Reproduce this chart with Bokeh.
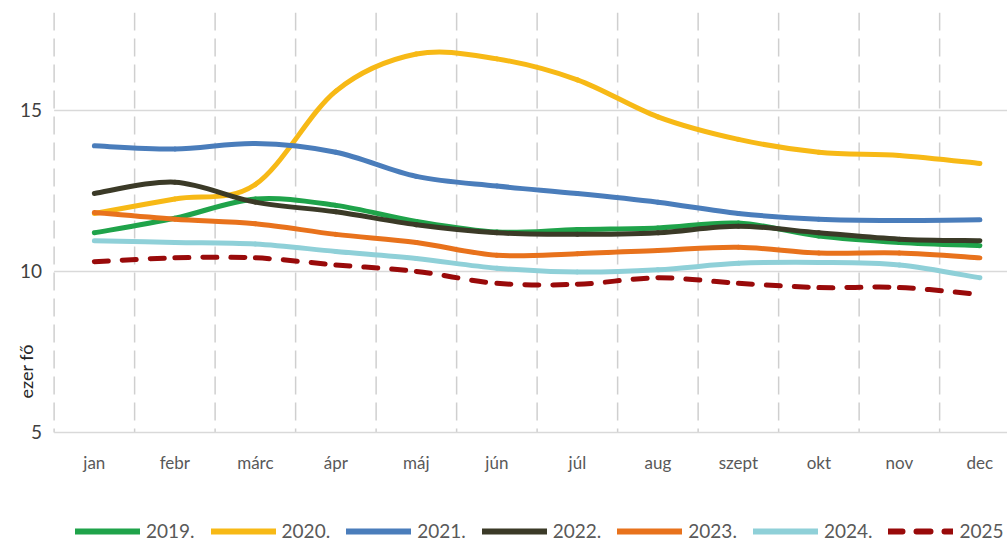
from math import pi
from bokeh.plotting import figure
from bokeh.layouts import column
from bokeh.models import ColumnDataSource, FixedTicker, Legend, LegendItem
from bokeh.core.properties import value
from bokeh.embed import file_html
from bokeh.resources import INLINE

months = ["jan", "febr", "márc", "ápr", "máj", "jún", "júl", "aug", "szept", "okt", "nov", "dec"]
y_ticks = [5, 10, 15]
y_title = "ezer fő"

y2019 = [11.2, 11.65, 12.25, 12.05, 11.55, 11.22, 11.3, 11.35, 11.5, 11.1, 10.9, 10.8]
y2020 = [11.8, 12.25, 12.7, 15.6, 16.75, 16.6, 15.95, 14.8, 14.1, 13.7, 13.6, 13.35]
y2021 = [13.9, 13.8, 13.97, 13.7, 12.95, 12.65, 12.42, 12.15, 11.8, 11.62, 11.58, 11.6]
y2022 = [12.42, 12.77, 12.15, 11.85, 11.45, 11.2, 11.15, 11.2, 11.4, 11.2, 11.0, 10.95]
y2023 = [11.83, 11.62, 11.48, 11.15, 10.9, 10.5, 10.55, 10.65, 10.75, 10.57, 10.57, 10.42]
y2024 = [10.95, 10.9, 10.85, 10.62, 10.4, 10.1, 9.98, 10.05, 10.25, 10.28, 10.2, 9.8]
y2025 = [10.3, 10.42, 10.42, 10.2, 10.0, 9.63, 9.6, 9.8, 9.63, 9.5, 9.5, 9.28]

labels = ["2019.", "2020.", "2021.", "2022.", "2023.", "2024.", "2025"]
values = [y2019, y2020, y2021, y2022, y2023, y2024, y2025]
colors = ["#1fa34a", "#f7b916", "#4a7dbb", "#3b3a27", "#e8721c", "#8fd0d8", "#990a0a"]
dashes = ["solid", "solid", "solid", "solid", "solid", "solid", "14 14"]

FONT = "Lato"


def smooth_source(ys):
    """Excel-like smoothing: cubic Bezier per segment, control points from neighbours."""
    n = len(ys)
    xs = list(range(n))
    d = dict(x0=[], y0=[], x1=[], y1=[], cx0=[], cy0=[], cx1=[], cy1=[])
    for i in range(n - 1):
        a = max(i - 1, 0)
        b = min(i + 2, n - 1)
        d["x0"].append(xs[i]); d["y0"].append(ys[i])
        d["x1"].append(xs[i + 1]); d["y1"].append(ys[i + 1])
        d["cx0"].append(xs[i] + (xs[i + 1] - xs[a]) / 6)
        d["cy0"].append(ys[i] + (ys[i + 1] - ys[a]) / 6)
        d["cx1"].append(xs[i + 1] - (xs[b] - xs[i]) / 6)
        d["cy1"].append(ys[i + 1] - (ys[b] - ys[i]) / 6)
    return ColumnDataSource(d)


X_START, X_END = -1.166, 11.343
Y_MIN, Y_MAX = 5, 18.04
p = figure(width=1007, height=490, x_range=(X_START, X_END), y_range=(4.5, Y_MAX),
           output_backend="svg", toolbar_location=None,
           min_border_left=0, min_border_right=0, min_border_top=12, min_border_bottom=42)
p.outline_line_color = None
p.background_fill_color = "white"
p.yaxis.visible = False
p.ygrid.visible = False
p.xgrid.visible = False

# vertical dashed grid between the months (plot area only)
bounds = [i - 0.5 for i in range(len(months))]
p.segment(x0=bounds, x1=bounds, y0=[Y_MAX] * len(bounds), y1=[Y_MIN] * len(bounds),
          line_color="#cfcfcf", line_width=1.5, line_dash="18 8")

# horizontal value grid, starting at the plot area's left edge
p.segment(x0=[-0.5] * len(y_ticks), x1=[X_END] * len(y_ticks), y0=y_ticks, y1=y_ticks,
          line_color="#d9d9d9", line_width=1.5)

# value labels and unit label
p.text(x=[-0.5] * len(y_ticks), y=y_ticks, text=[str(t) for t in y_ticks],
       x_offset=-12, text_align="right", text_baseline="middle",
       text_font=value(FONT), text_font_size="19px", text_color="#404040")
p.text(x=[-0.5], y=[6.9], text=[y_title], angle=pi / 2, x_offset=-28,
       text_align="center", text_baseline="middle",
       text_font=value(FONT), text_font_size="18px", text_color="#262626")

# x axis (month names)
p.xaxis.ticker = FixedTicker(ticks=list(range(len(months))))
p.xaxis.major_label_overrides = {i: m for i, m in enumerate(months)}
p.xaxis.axis_line_color = None
p.xaxis.major_tick_line_color = None
p.xaxis.minor_tick_line_color = None
p.xaxis.major_tick_out = 0
p.xaxis.major_label_standoff = 3
p.xaxis.major_label_text_font = FONT
p.xaxis.major_label_text_font_size = "17px"
p.xaxis.major_label_text_color = "#595959"

for ys, col, dash in zip(values, colors, dashes):
    src = smooth_source(ys)
    p.bezier(x0="x0", y0="y0", x1="x1", y1="y1", cx0="cx0", cy0="cy0", cx1="cx1", cy1="cy1",
             source=src, line_color=col, line_width=5, line_dash=dash, line_cap="round")

# legend strip below the chart
lg = figure(width=1007, height=52, x_range=(0, 1), y_range=(0, 1),
            output_backend="svg", toolbar_location=None,
            min_border_left=0, min_border_right=0, min_border_top=0, min_border_bottom=0,
            x_axis_type=None, y_axis_type=None)
lg.outline_line_color = None
lg.grid.visible = False
nan = float("nan")
items = []
for lab, col, dash in zip(labels, colors, dashes):
    r = lg.line(x=[nan, nan], y=[nan, nan], line_color=col, line_width=6,
                line_dash=dash, line_cap="round")
    items.append(LegendItem(label=lab, renderers=[r]))
legend = Legend(items=items, orientation="horizontal", location=(75, 0),
                glyph_width=65, glyph_height=16, label_standoff=6, spacing=16,
                padding=0, margin=0, border_line_color=None, background_fill_alpha=0,
                label_text_font=FONT, label_text_font_size="19px", label_text_color="#595959")
lg.add_layout(legend)

layout = column(p, lg, spacing=0)
open("out.html", "w").write(file_html(layout, INLINE))
